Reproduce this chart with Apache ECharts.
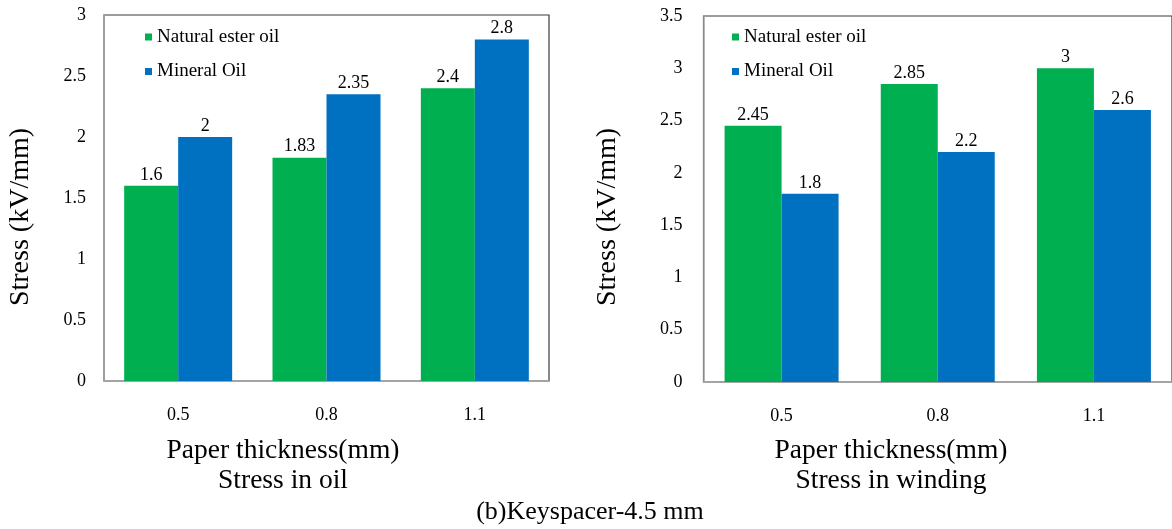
<!DOCTYPE html>
<html>
<head>
<meta charset="utf-8">
<script src="https://cdn.jsdelivr.net/npm/echarts@6/dist/echarts.min.js"></script>
<style>
html,body{margin:0;padding:0;background:#fff;}
#chart{width:1172px;height:529px;}
</style>
</head>
<body>
<div id="chart"></div>
<script>
// ---- data ----
const categories = ['0.5', '0.8', '1.1'];
const seriesNames = ['Natural ester oil', 'Mineral Oil'];
const oilNatural = [1.6, 1.83, 2.4];
const oilMineral = [2, 2.35, 2.8];
const windingNatural = [2.45, 2.85, 3];
const windingMineral = [1.8, 2.2, 2.6];
const xTitle = 'Paper thickness(mm)';
const leftSubtitle = 'Stress in oil';
const rightSubtitle = 'Stress in winding';
const yTitle = 'Stress (kV/mm)';
const caption = '(b)Keyspacer-4.5 mm';

const FONT = "'Liberation Serif', 'Times New Roman', serif";
const GREEN = '#00B050';
const BLUE = '#0070C0';

const chart = echarts.init(document.getElementById('chart'));

function xAxis(gi) {
  return {
    type: 'category', gridIndex: gi, data: categories,
    axisLine: { lineStyle: { color: '#a6a6a6', width: 1.5 } },
    axisTick: { show: false },
    axisLabel: { color: '#000', fontFamily: FONT, fontSize: 18, margin: 25 }
  };
}
function yAxis(gi, max, margin) {
  return {
    type: 'value', gridIndex: gi, min: 0, max: max, interval: 0.5,
    axisLine: { show: true, lineStyle: { color: '#a6a6a6', width: 1.5 } },
    axisTick: { show: false },
    splitLine: { show: false },
    axisLabel: { color: '#000', fontFamily: FONT, fontSize: 18, margin: margin }
  };
}
function bar(name, data, gi, color, w) {
  return {
    type: 'bar', name: name, data: data,
    xAxisIndex: gi, yAxisIndex: gi,
    barWidth: w, barGap: '0%',
    itemStyle: { color: color },
    label: { show: true, position: 'top', distance: 2, color: '#000', fontFamily: FONT, fontSize: 18 }
  };
}
function legend(left) {
  return {
    left: left, top: 22.5, orient: 'vertical', itemGap: 15.5,
    itemWidth: 7, itemHeight: 7, icon: 'rect',
    data: seriesNames,
    textStyle: { color: '#000', fontFamily: FONT, fontSize: 19 },
    selectedMode: false
  };
}
function txt(text, x, y, size, rot) {
  return {
    type: 'text', x: x, y: y, rotation: rot || 0,
    style: { text: text, x: 0, y: 0, align: 'center', verticalAlign: 'middle',
      fontFamily: FONT, fontSize: size, fill: '#000' }
  };
}

chart.setOption({
  animation: false,
  backgroundColor: '#fff',
  grid: [
    { left: 104, top: 15, width: 445, height: 366, show: true, borderColor: '#3a3a3a', borderWidth: 1.2 },
    { left: 703.5, top: 16, width: 472, height: 366, show: true, borderColor: '#3a3a3a', borderWidth: 1.2 }
  ],
  legend: [legend(140), legend(727)],
  xAxis: [xAxis(0), xAxis(1)],
  yAxis: [yAxis(0, 3, 18), yAxis(1, 3.5, 21)],
  series: [
    bar(seriesNames[0], oilNatural, 0, GREEN, 54),
    bar(seriesNames[1], oilMineral, 0, BLUE, 54),
    bar(seriesNames[0], windingNatural, 1, GREEN, 57),
    bar(seriesNames[1], windingMineral, 1, BLUE, 57)
  ],
  graphic: [
    txt(xTitle, 283, 451, 27.5),
    txt(leftSubtitle, 283, 481, 27.5),
    txt(xTitle, 891, 451, 27.5),
    txt(rightSubtitle, 891, 481, 27.5),
    txt(caption, 590, 512, 26),
    txt(yTitle, 21, 217, 28, Math.PI / 2),
    txt(yTitle, 608, 217, 28, Math.PI / 2)
  ]
});
</script>
</body>
</html>
